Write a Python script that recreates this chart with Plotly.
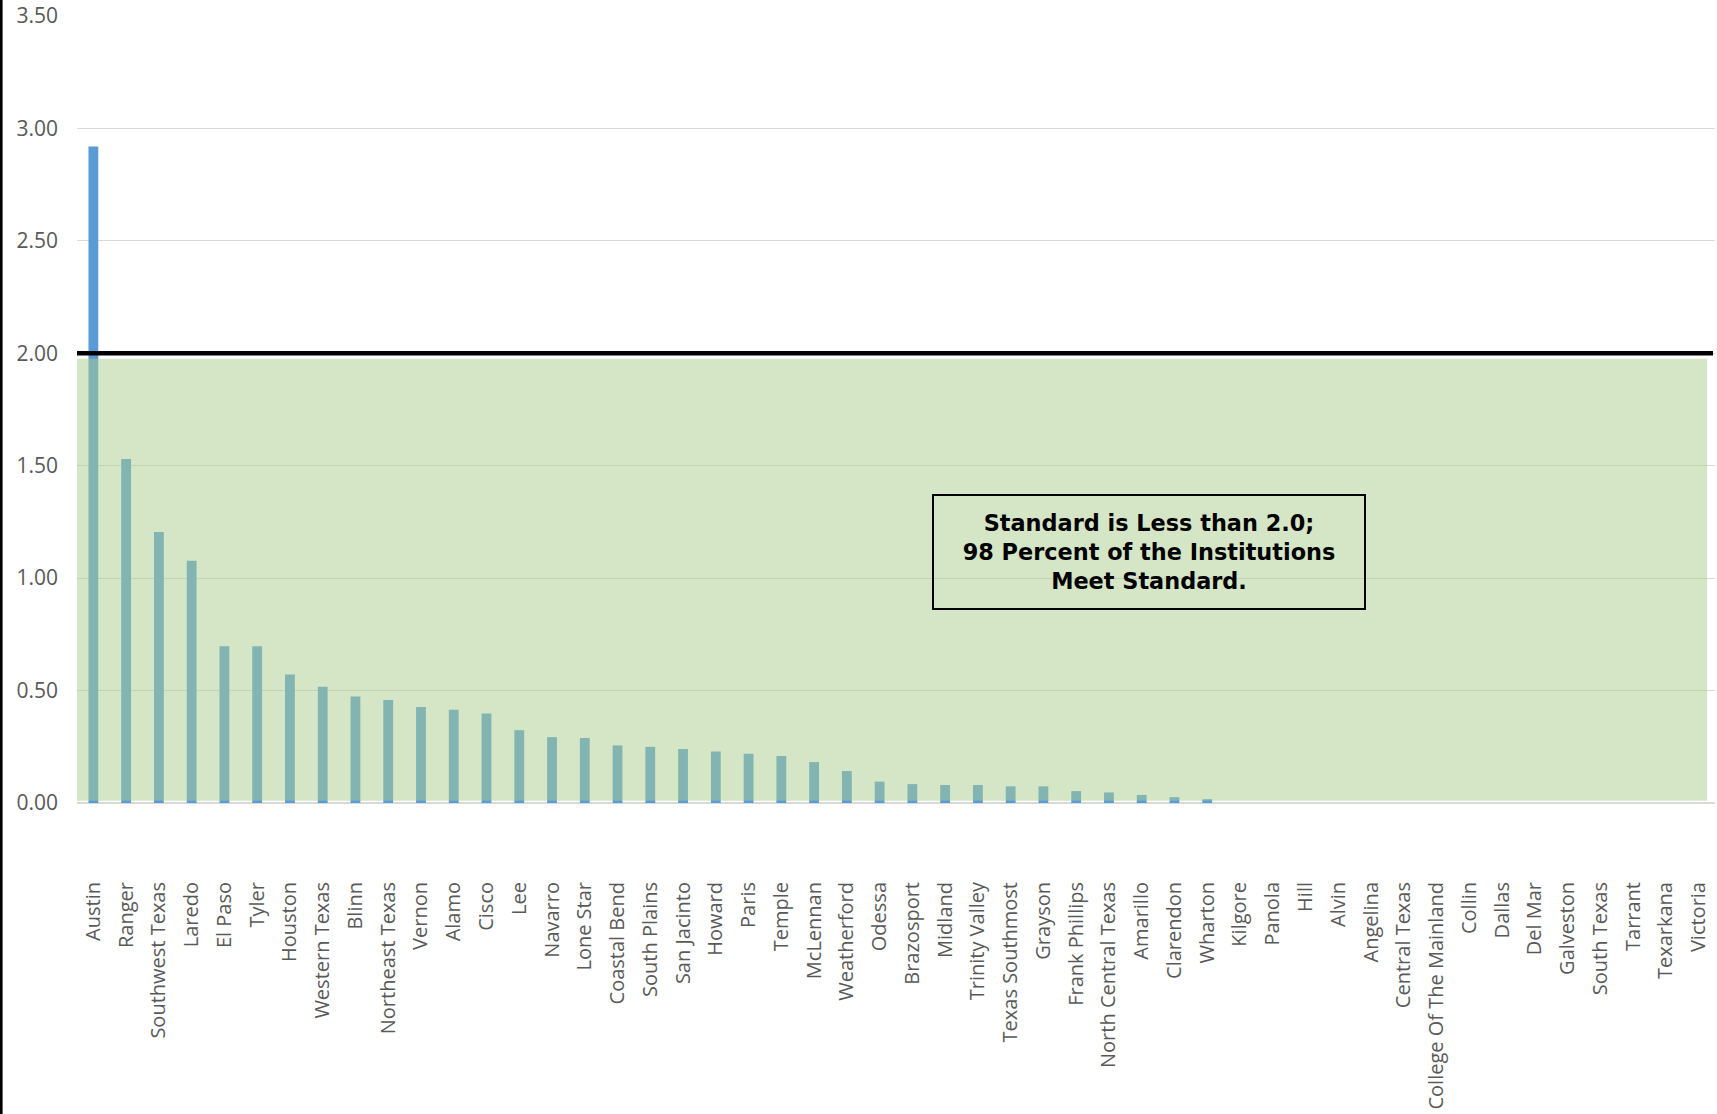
import plotly.graph_objects as go

categories = ["Austin", "Ranger", "Southwest Texas", "Laredo", "El Paso", "Tyler", "Houston",
              "Western Texas", "Blinn", "Northeast Texas", "Vernon", "Alamo", "Cisco", "Lee",
              "Navarro", "Lone Star", "Coastal Bend", "South Plains", "San Jacinto", "Howard",
              "Paris", "Temple", "McLennan", "Weatherford", "Odessa", "Brazosport", "Midland",
              "Trinity Valley", "Texas Southmost", "Grayson", "Frank Phillips", "North Central Texas",
              "Amarillo", "Clarendon", "Wharton", "Kilgore", "Panola", "Hill", "Alvin", "Angelina",
              "Central Texas", "College Of The Mainland", "Collin", "Dallas", "Del Mar", "Galveston",
              "South Texas", "Tarrant", "Texarkana", "Victoria"]

values = [2.92, 1.53, 1.205, 1.077, 0.697, 0.697, 0.571, 0.517, 0.474, 0.458, 0.427, 0.415,
          0.398, 0.324, 0.293, 0.289, 0.256, 0.25, 0.24, 0.229, 0.219, 0.209, 0.182, 0.142,
          0.095, 0.084, 0.080, 0.080, 0.074, 0.074, 0.053, 0.047, 0.036, 0.026, 0.017,
          0, 0, 0, 0, 0, 0, 0, 0, 0, 0, 0, 0, 0, 0, 0]

y_ticks = [0, 0.5, 1.0, 1.5, 2.0, 2.5, 3.0, 3.5]
standard = 2.0
note = "Standard is Less than 2.0;<br>98 Percent of the Institutions<br>Meet Standard."

W, H = 1717, 1114
ml, mr, mt, mb = 77, 2, 16, 311
pw, ph = W - ml - mr, H - mt - mb

fig = go.Figure()
fig.add_trace(go.Bar(x=categories, y=values, marker=dict(color="#5B9BD5", line=dict(width=0)),
                     hoverinfo="x+y"))

def px_to_paper_x(px):
    return (px - ml) / pw

def px_to_paper_y(py):
    return (H - mb - py) / ph

fig.update_layout(
    width=W, height=H,
    margin=dict(l=ml, r=mr, t=mt, b=mb, pad=0),
    paper_bgcolor="white", plot_bgcolor="white",
    showlegend=False,
    bargap=0.7,
    xaxis=dict(
        type="category", range=[-0.5, len(categories) - 0.5],
        tickangle=-90, tickfont=dict(family="Open Sans", size=20, color="#595959"),
        showgrid=False, showline=False, ticks="", ticklabelstandoff=74,
    ),
    yaxis=dict(
        range=[0, 3.5], tickvals=y_ticks, tickformat=".2f",
        tickfont=dict(family="Open Sans", size=21, color="#595959"),
        showgrid=True, gridcolor="#D9D9D9", gridwidth=1,
        zeroline=True, zerolinecolor="#D9D9D9", zerolinewidth=2,
        showline=False, ticks="", ticklabelstandoff=18,
    ),
    shapes=[
        dict(type="rect", xref="x", yref="y", x0=-0.5, x1=49.26, y0=0.01, y1=1.976,
             fillcolor="rgba(169,205,141,0.5)", line=dict(width=0), layer="above"),
        dict(type="line", xref="paper", yref="y", x0=0, x1=px_to_paper_x(1713),
             y0=standard, y1=standard, line=dict(color="black", width=4.5), layer="above"),
        dict(type="line", xref="paper", yref="paper", x0=px_to_paper_x(1.3), x1=px_to_paper_x(1.3),
             y0=px_to_paper_y(H), y1=px_to_paper_y(0), line=dict(color="black", width=2.6),
             layer="above"),
    ],
    annotations=[
        dict(xref="paper", yref="paper", x=px_to_paper_x(1149), y=px_to_paper_y(552),
             xanchor="center", yanchor="middle", text="<b>" + note + "</b>",
             showarrow=False, align="center", valign="middle",
             font=dict(family="DejaVu Sans", size=22.4, color="black"),
             bordercolor="black", borderwidth=2, borderpad=1,
             width=428, height=110, bgcolor="rgba(0,0,0,0)"),
    ],
)

fig.write_html("out.html", config={"displayModeBar": False},
               post_script="document.body.style.margin='0px';")
